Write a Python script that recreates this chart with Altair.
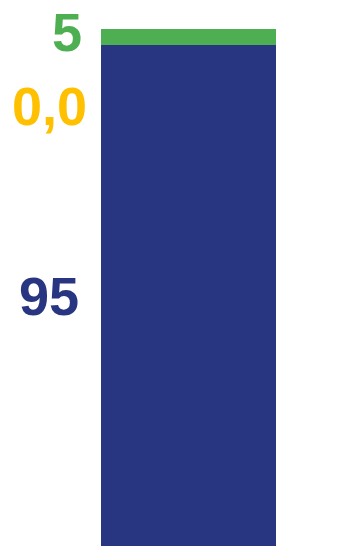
import altair as alt
import pandas as pd

categories = ["Azul", "Amarillo", "Verde"]
values = [96.9, 0.0, 3.1]
labels = ["95", "0,0", "5"]
colors = ["#283580", "#FFC000", "#4EAE52"]
stack_order = [0, 1, 2]

df = pd.DataFrame({
    "cat": categories,
    "value": values,
    "label": labels,
    "ord": stack_order,
    "bar": ["b"] * len(categories),
})

color_scale = alt.Scale(domain=categories, range=colors)

base = alt.Chart(df).transform_stack(
    stack="value", as_=["y0", "y1"], groupby=["bar"],
    sort=[alt.SortField("ord", order="ascending")]
).transform_calculate(mid="(datum.y0 + datum.y1) / 2")

x_enc = alt.X("bar:N", axis=None)
y_scale = alt.Scale(domain=[0, 100], nice=False, zero=True)

bars = base.mark_bar(size=175).encode(
    x=x_enc,
    y=alt.Y("y0:Q", scale=y_scale, axis=None),
    y2="y1:Q",
    color=alt.Color("cat:N", scale=color_scale, legend=None),
)

def label_layer(cat, dx, dy):
    return base.transform_filter(alt.datum.cat == cat).mark_text(
        align="right", baseline="middle", font="Liberation Sans",
        fontWeight="bold", fontSize=54, dx=dx, dy=dy,
    ).encode(
        x=x_enc,
        y=alt.Y("mid:Q", scale=y_scale, axis=None),
        text="label:N",
        color=alt.Color("cat:N", scale=color_scale, legend=None),
    )

chart = alt.layer(
    bars,
    label_layer("Azul", -109.5, 3),
    label_layer("Amarillo", -101.5, 64),
    label_layer("Verde", -106.5, -2),
).properties(
    width=200, height=517,
    padding={"left": 80.5, "top": 21, "right": 0, "bottom": 0},
    autosize=alt.AutoSizeParams(type="none"),
    background="white",
).configure_view(stroke=None)

chart.save("out.html", embed_options={"renderer": "svg", "actions": False})
